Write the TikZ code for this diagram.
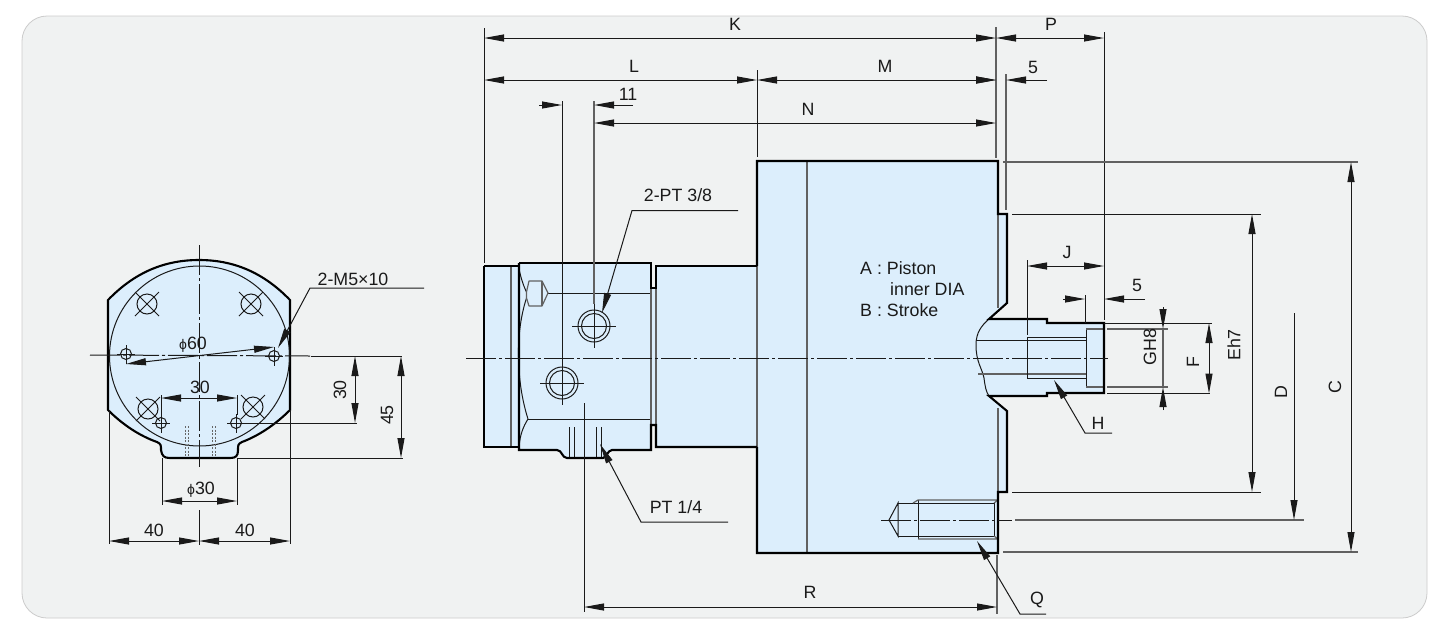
\documentclass[tikz,border=0pt]{standalone}
\usepackage{fontspec}
\setmainfont{Liberation Sans}
\usetikzlibrary{arrows.meta}
\definecolor{panelbg}{HTML}{F0F2F2}
\definecolor{partfill}{HTML}{DCEEFC}
\definecolor{inkc}{HTML}{1A1A1A}
\tikzset{
 x=1pt,y=-1pt,
 thickl/.style={line width=2.1pt,draw=black,line join=miter},
 thinl/.style={line width=1pt,draw=inkc},
 greyl/.style={line width=1.2pt,draw=black!62},
 centerl/.style={line width=1pt,draw=inkc,dash pattern=on 30pt off 3pt on 3pt off 3pt},
 leader/.style={line width=1pt,draw=inkc,-{Triangle[length=20pt,width=7pt]}},
 dimboth/.style={line width=1pt,draw=inkc,{Triangle[length=20pt,width=7pt]}-{Triangle[length=20pt,width=7pt]}},
 dimend/.style={line width=1pt,draw=inkc,-{Triangle[length=20pt,width=7pt]}},
 lab/.style={font=\fontsize{17.8}{20}\selectfont,text=inkc,inner sep=0pt},
 vlab/.style={lab,rotate=90},
}
\newcommand{\phisym}{{\fontsize{14}{16}\selectfont\char"03D5}}
\begin{document}
\begin{tikzpicture}
\useasboundingbox (0,0) rectangle (1452,641);
\fill[white] (0,0) rectangle (1452,641);
\draw[fill=panelbg,draw=black!20,line width=0.8pt,rounded corners=25pt] (22,16) rectangle (1427,618);

% ---------- left view ----------
\path[fill=partfill] (108,300) .. controls (135,272) and (165,260) .. (199,260) .. controls (233,260) and (263,272) .. (290,300)
  -- (290,410) .. controls (275,425) and (258,436) .. (242,442)
  .. controls (238,444) and (238,445) .. (238,450) .. controls (238,456) and (236,458) .. (230,458)
  -- (170,458) .. controls (164,458) and (162,456) .. (161,450) .. controls (161,445) and (161,444) .. (157,442)
  .. controls (140,436) and (123,425) .. (108,410) -- cycle;
\draw[thickl] (108,300) .. controls (135,272) and (165,260) .. (199,260) .. controls (233,260) and (263,272) .. (290,300)
  -- (290,410) .. controls (275,425) and (258,436) .. (242,442)
  .. controls (238,444) and (238,445) .. (238,450) .. controls (238,456) and (236,458) .. (230,458)
  -- (170,458) .. controls (164,458) and (162,456) .. (161,450) .. controls (161,445) and (161,444) .. (157,442)
  .. controls (140,436) and (123,425) .. (108,410) -- cycle;
\draw[thinl] (199.5,356) circle[radius=90pt];
\foreach \cx/\cy in {147/304,251/304,148/409,253/407}{
  \draw[thinl] (\cx,\cy) circle[radius=10pt];
  \draw[thinl] (\cx-12,\cy-12) -- (\cx+12,\cy+12) (\cx-12,\cy+12) -- (\cx+12,\cy-12);
}
\foreach \cx/\cy in {126/354,274/356,161/423,236/423}{
  \draw[thinl] (\cx,\cy) circle[radius=5.5pt];
  \draw[thinl] (\cx,\cy-9) -- (\cx,\cy+10) (\cx-9,\cy) -- (\cx+9,\cy);
}
\draw[line width=0.9pt,draw=black!60,dash pattern=on 2pt off 1.5pt] (185,426) -- (185,457) (188,426) -- (188,457) (212,426) -- (212,457) (215,426) -- (215,457);
\draw[centerl] (90,355) -- (310,356);
\draw[thinl] (311,356) -- (402,356);
\draw[centerl] (199.5,245) -- (199.5,467);
\draw[dimboth] (126,364) -- (274,347);
\node[lab] (phisixty) at (193,345) {\phisym 60};
\coordinate (mfive) at (424,288);
\coordinate (mfiveb) at (310,288);
\coordinate (mfivetip) at (278,348);
\draw[leader] (mfive) -- (mfiveb) -- (mfivetip);
\node[lab] (mfivelab) at (353,279) {2-M5×10};
\draw[thinl] (161,395) -- (161,415) (237,395) -- (237,415);
\draw[dimboth] (161,398) -- (237,398);
\node[lab] (thirtyh) at (200,387) {30};
\draw[thinl] (240,423) -- (357,423);
\draw[thinl] (238,458) -- (403,458);
\draw[dimboth] (355,356) -- (355,423);
\node[vlab] (thirtyv) at (340,390) {30};
\draw[dimboth] (401,356) -- (401,458);
\node[vlab] (fortyfive) at (387,415) {45};
\draw[thinl] (162,458) -- (162,505) (237,458) -- (237,505);
\draw[dimboth] (162,501) -- (237,501);
\node[lab] (phithirty) at (201,490) {\phisym 30};
\draw[thinl] (109,410) -- (109,544) (290,410) -- (290,544) (199,510) -- (199,545);
\draw[dimboth] (109,541) -- (199,541);
\draw[dimboth] (199,541) -- (290,541);
\node[lab] (fortyl) at (154,530) {40};
\node[lab] (fortyr) at (245,530) {40};

% ---------- main view fill ----------
\path[fill=partfill] (484,266) -- (519,266) -- (519,263) -- (651,263) -- (651,288) -- (656,288) -- (656,266) -- (757,266) -- (757,161)
 -- (998,161) -- (998,214) -- (1007,214) -- (1007,303) -- (989,319) -- (1047,319) -- (1047,323) -- (1104,323) -- (1104,393) -- (1047,393) -- (1047,396) -- (989,396)
 -- (1007,411) -- (1007,492) -- (998,492) -- (998,553) -- (757,553) -- (757,447) -- (656,447) -- (656,425) -- (651,425) -- (651,450) -- (612,450)
 .. controls (608,450) and (606,458) .. (603,458) -- (567,458) .. controls (562,458) and (562,450) .. (557,450) -- (519,450) -- (519,447) -- (484,447) -- cycle;

% details of the manifold
\draw[thinl] (518.5,266) .. controls (520,275) and (523,285) .. (526.5,292);
\draw[thinl] (526.5,298) .. controls (520,318) and (518,340) .. (518.5,358) .. controls (519,380) and (522,400) .. (528,419);
\draw[thinl] (528,419) .. controls (523,427) and (520,435) .. (519,447);
\draw[greyl] (511,266) -- (511,447);
\draw[thinl] (528,419) -- (651,419);
\draw[thinl] (548,293) -- (651,293);
\draw[greyl,line join=round] (526.5,292) -- (529,281) -- (542,281) -- (548,293) -- (542,306) -- (529,306) -- (526.5,298) -- cycle;
\draw[greyl] (542,281) -- (542,306);
\draw[greyl] (651,288) -- (651,425);
\draw[greyl] (656,288) -- (656,425);
\foreach \cx/\cy in {594/326,562/383}{
  \draw[thinl] (\cx,\cy) circle[radius=16pt] (\cx,\cy) circle[radius=12.5pt];
  \draw[thinl] (\cx-22,\cy) -- (\cx+22,\cy);
}
\draw[thinl] (594,304) -- (594,348);
\draw[thinl] (569,427) -- (569,458) (574,427) -- (574,458) (596,427) -- (596,458) (601,427) -- (601,458);

% body lines
\draw[greyl] (757,266) -- (757,447);
\draw[greyl] (807,161) -- (807,553);
\draw[greyl] (998,214) -- (998,308) (998,408) -- (998,492);

% rod
\draw[thinl] (989,319) .. controls (981,326) and (976,333) .. (976,345) .. controls (976,362) and (982,368) .. (984,378) .. controls (985,386) and (986,392) .. (989,396);
\draw[thinl] (976,340) -- (1086,340);
\draw[greyl] (978,374) -- (1086,374);
\draw[thinl] (1027,337) rectangle (1086,378);
\draw[thinl,fill=partfill] (1086,329) rectangle (1104,387);
\draw[greyl] (1086,329) -- (1104,329) (1086,387) -- (1104,387);

% threaded hole Q
\draw[thinl] (889,520) -- (898,503) -- (898,536) -- cycle;
\draw[thinl] (898,503) -- (994,503) -- (994,536) -- (898,536);
\draw[thinl] (918,500) -- (918,539);
\draw[greyl] (913,503) -- (918,500) -- (998,500) (918,539) -- (998,539) (994,503) -- (998,500) (994,536) -- (998,539);

% outlines
\draw[thickl] (484,266) -- (519,266) (484,266) -- (484,447) -- (519,447);
\draw[thickl] (519,263) -- (651,263) -- (651,288) -- (656,288) -- (656,266) -- (757,266);
\draw[thickl] (519,263) -- (519,450) -- (557,450) .. controls (562,450) and (562,458) .. (567,458) -- (603,458) .. controls (606,458) and (608,450) .. (612,450) -- (651,450) -- (651,425) -- (656,425) -- (656,447) -- (757,447);
\draw[thickl] (757,266) -- (757,161) -- (998,161) -- (998,214) -- (1007,214) -- (1007,303) -- (989,319) -- (1047,319) -- (1047,323) -- (1104,323) -- (1104,393) -- (1047,393) -- (1047,396) -- (989,396) -- (1007,411) -- (1007,492) -- (998,492) -- (998,553) -- (757,553) -- (757,447);

% centre lines
\draw[centerl] (466,358) -- (1108,358);
\draw[centerl] (881,520) -- (1012,520);
\draw[thinl] (584,403) -- (584,612);

% extension lines
\draw[thinl] (484,28) -- (484,263);
\draw[thinl] (757,70) -- (757,157);
\draw[greyl] (996,27) -- (996,158);
\draw[greyl] (1006,74) -- (1006,210);
\draw[thinl] (1104,32) -- (1104,320);
\draw[thinl] (562,101) -- (562,405);
\draw[greyl] (594,101) -- (594,304);
\draw[greyl] (1003,162) -- (1358,162);
\draw[thinl] (1012,214) -- (1261,214);
\draw[thinl] (1012,492) -- (1261,492);
\draw[greyl] (1015,520) -- (1304,520);
\draw[greyl] (1003,552) -- (1358,552);
\draw[thinl] (1027,260) -- (1027,335);
\draw[thinl] (1085,295) -- (1085,323);
\draw[thinl] (1104,323) -- (1212,323);
\draw[thinl] (1107,393.5) -- (1210,393.5);
\draw[greyl] (1107,329) -- (1168,329) (1107,387) -- (1168,387);
\draw[greyl] (997,555) -- (997,614);

% top dimensions
\draw[dimboth] (484,38) -- (996,38);
\node[lab] (K) at (735,24) {K};
\draw[dimboth] (996,38) -- (1104,38);
\node[lab] (P) at (1051,24) {P};
\draw[dimboth] (484,80) -- (757,80);
\node[lab] (L) at (634,66) {L};
\draw[dimboth] (757,80) -- (996,80);
\node[lab] (M) at (885,66) {M};
\draw[dimend] (1047,80) -- (1006,80);
\draw[dimend] (975,80) -- (996,80);
\node[lab] (five) at (1033,67) {5};
\draw[dimboth] (594,123) -- (996,123);
\node[lab] (N) at (808,109) {N};
\draw[dimend] (539,105) -- (562,105);
\draw[dimend] (633,105) -- (594,105);
\node[lab] (eleven) at (628,94) {11};

% leaders
\coordinate (pta) at (738,210.5);
\coordinate (ptb) at (632,210.5);
\coordinate (ptc) at (602,313);
\draw[leader] (pta) -- (ptb) -- (ptc);
\node[lab] (ptthree) at (678,195) {2-PT 3/8};
\coordinate (qa) at (728,522);
\coordinate (qb) at (641,522);
\coordinate (qc) at (600,444);
\draw[leader] (qa) -- (qb) -- (qc);
\node[lab] (ptone) at (676,507) {PT 1/4};
\coordinate (ha) at (1112,433);
\coordinate (hb) at (1085,433);
\coordinate (hc) at (1054,380);
\draw[leader] (ha) -- (hb) -- (hc);
\node[lab] (H) at (1098,423) {H};
\coordinate (ra) at (1046,614);
\coordinate (rb) at (1020,614);
\coordinate (rc) at (977,541);
\draw[leader] (ra) -- (rb) -- (rc);
\node[lab] (Q) at (1037,600) {Q};

% bottom and right dimensions
\draw[dimboth] (584,607) -- (997,607);
\node[lab] (R) at (810,592) {R};
\draw[dimboth] (1027,266) -- (1104,266);
\node[lab] (J) at (1067,252) {J};
\draw[dimend] (1063,299) -- (1085,299);
\draw[dimend] (1145,299) -- (1104,299);
\node[lab] (fiveb) at (1137,285) {5};
\draw[dimend] (1163,307) -- (1163,329);
\draw[greyl] (1163,329) -- (1163,387);
\draw[dimend] (1163,410) -- (1163,387);
\node[vlab] (GH) at (1150,347) {GH8};
\draw[dimboth] (1209,323) -- (1209,393.5);
\node[vlab] (F) at (1193,362) {F};
\draw[dimboth] (1252,214) -- (1252,492);
\node[vlab] (Eh) at (1234,345) {Eh7};
\draw[dimend] (1294,313) -- (1294,520);
\node[vlab] (D) at (1281,392) {D};
\draw[dimboth] (1351,162) -- (1351,552);
\node[vlab] (C) at (1335,387) {C};

% text
\node[lab,anchor=west] (A) at (860,268) {A : Piston};
\node[lab,anchor=west] (inner) at (890,289) {inner DIA};
\node[lab,anchor=west] (B) at (860,310) {B : Stroke};
\end{tikzpicture}
\end{document}
